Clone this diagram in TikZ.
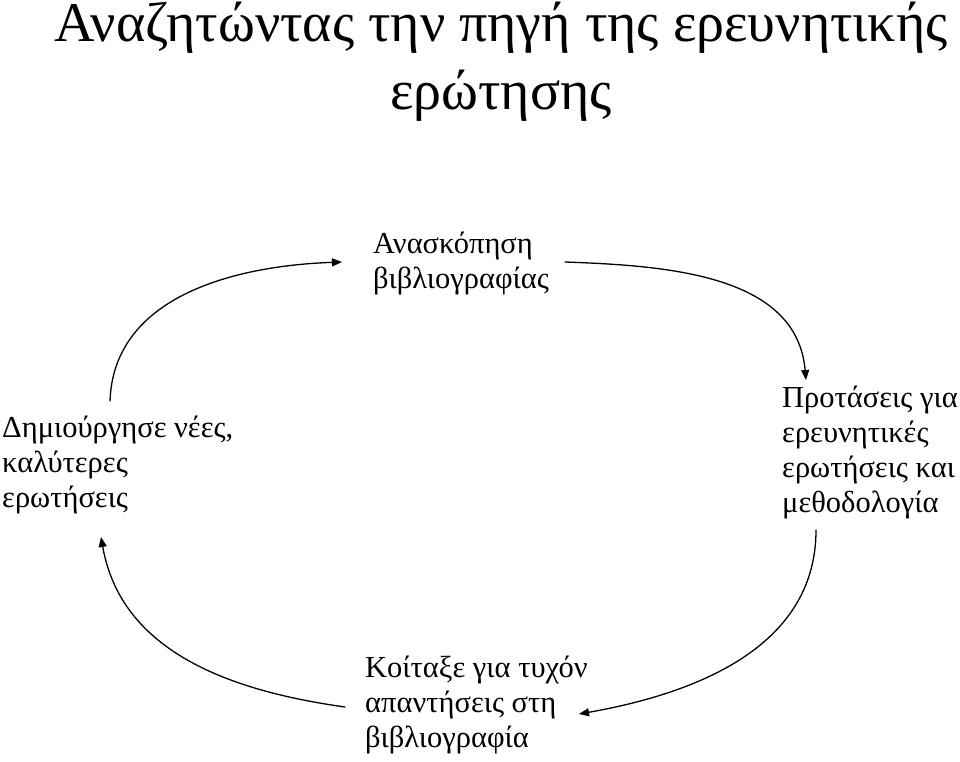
\documentclass[tikz,border=0pt]{standalone}
\usepackage{fontspec}
\setmainfont{Liberation Serif}
\usetikzlibrary{arrows.meta,calc}

\begin{document}
\begin{tikzpicture}[x=1pt,y=-1pt,line cap=round,line join=round,
  >={Triangle[length=10pt,width=8pt]},
  step label/.style={inner sep=0pt,align=left,anchor=base west,
    font=\fontsize{30.5}{35}\selectfont},
  cycle arc/.style={->,line width=1.3pt}]
  \useasboundingbox (0,0) rectangle (960,761);

  % title
  \node[inner sep=0pt,align=center,anchor=base,
    font=\fontsize{56}{68}\selectfont] (title) at (501,109)
    {Αναζητώντας την πηγή της ερευνητικής\\ερώτησης};

  % the four steps of the cycle (placed at their last baseline)
  \node[step label] (lit) at (373,288) {Ανασκόπηση\\βιβλιογραφίας};
  \node[step label] (prop) at (782,512)
    {Προτάσεις για\\ερευνητικές\\ερωτήσεις και\\μεθοδολογία};
  \node[step label] (look) at (365,747)
    {Κοίταξε για τυχόν\\απαντήσεις στη\\βιβλιογραφία};
  \node[step label] (new) at (2,507)
    {Δημιούργησε νέες,\\καλύτερες\\ερωτήσεις};

  % arcs, clockwise
  \draw[cycle arc] ($(new.base west)+(108,-106)$) to[out=88,in=182]
    ($(lit.base west)+(-31,-26)$);
  \draw[cycle arc] ($(lit.base west)+(192,-26)$) to[out=-2,in=95]
    ($(prop.base west)+(24,-132)$);
  \draw[cycle arc] ($(prop.base west)+(34,18)$) to[out=-90,in=10]
    ($(look.base west)+(214,-33)$);
  \draw[cycle arc] ($(look.base west)+(-20,-40)$) to[out=172,in=-80]
    ($(new.base west)+(99,30)$);
\end{tikzpicture}
\end{document}
